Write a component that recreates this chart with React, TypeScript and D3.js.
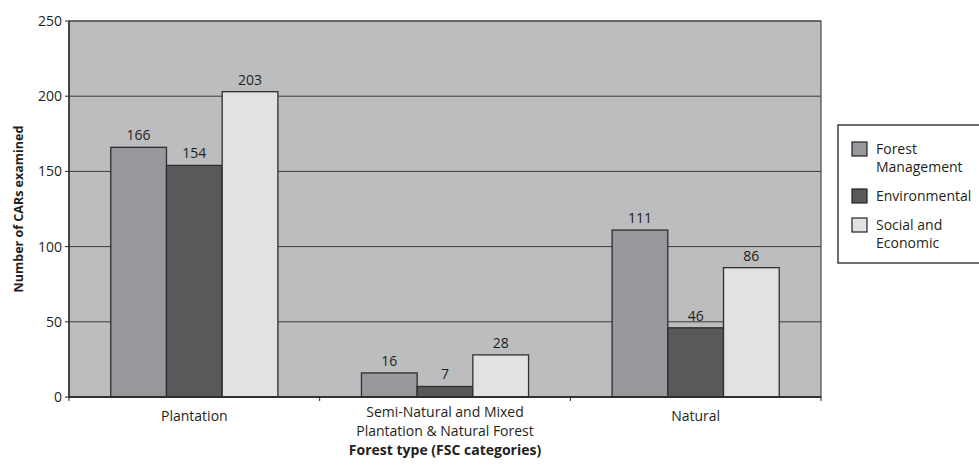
import React from 'react';
import * as d3 from 'd3';

// chart data
const categories = ['Plantation', 'Semi-Natural and Mixed\nPlantation & Natural Forest', 'Natural'];
const seriesNames = ['Forest Management', 'Environmental', 'Social and Economic'];
const forestManagement = [166, 16, 111];
const environmental = [154, 7, 46];
const socialEconomic = [203, 28, 86];
const yTicks = [0, 50, 100, 150, 200, 250];

const colors = ['#97989b', '#58595b', '#e1e2e4'];
const legendLines = [['Forest', 'Management'], ['Environmental'], ['Social and', 'Economic']];

const App = () => {
  const width = 979;
  const height = 471;
  const margin = { top: 21, left: 69, right: 158, bottom: 74 };
  const innerWidth = width - margin.left - margin.right;
  const innerHeight = height - margin.top - margin.bottom;
  const font = "'Open Sans', sans-serif";
  const textColor = '#231f20';

  const x = d3.scaleBand().domain(categories).range([0, innerWidth]).paddingInner(0).paddingOuter(0);
  const x1 = d3
    .scaleBand()
    .domain(seriesNames)
    .range([x.bandwidth() / 6, (x.bandwidth() * 5) / 6]);
  const y = d3.scaleLinear().domain([0, 250]).range([innerHeight, 0]);

  const series = [forestManagement, environmental, socialEconomic];

  return (
    <svg width={width} height={height} style={{ position: 'absolute', left: 0, top: 0 }}>
      <g transform={`translate(${margin.left},${margin.top})`}>
        {/* background */}
        <rect x={0} y={0} width={innerWidth} height={innerHeight} fill="#bcbdbf" />
        {/* gridlines */}
        {yTicks.map((t) => (
          <line key={t} x1={0} x2={innerWidth} y1={y(t)} y2={y(t)} stroke="#3a3a3a" strokeWidth={1} />
        ))}
        {/* bars */}
        {categories.map((c, ci) =>
          series.map((vals, si) => (
            <g key={`${ci}-${si}`}>
              <rect
                x={(x(c) as number) + (x1(seriesNames[si]) as number)}
                y={y(vals[ci])}
                width={x1.bandwidth()}
                height={innerHeight - y(vals[ci])}
                fill={colors[si]}
                stroke="#2e2e2e"
                strokeWidth={1.3}
              />
              <text
                x={(x(c) as number) + (x1(seriesNames[si]) as number) + x1.bandwidth() / 2}
                y={y(vals[ci]) - 7}
                textAnchor="middle"
                fontFamily={font}
                fontSize={14}
                fill={textColor}
              >
                {vals[ci]}
              </text>
            </g>
          ))
        )}
        {/* plot border */}
        <rect x={0} y={0} width={innerWidth} height={innerHeight} fill="none" stroke="#555" strokeWidth={1.3} />
        {/* y axis */}
        <line x1={0} x2={0} y1={0} y2={innerHeight} stroke="#222" strokeWidth={1.3} />
        {yTicks.map((t) => (
          <g key={t} transform={`translate(0,${y(t)})`}>
            <line x1={-4} x2={0} stroke="#222" />
            <text x={-7} dy="0.35em" textAnchor="end" fontFamily={font} fontSize={14} fill={textColor}>
              {t}
            </text>
          </g>
        ))}
        {/* x axis */}
        <line x1={0} x2={innerWidth} y1={innerHeight} y2={innerHeight} stroke="#222" strokeWidth={1.3} />
        {d3.range(categories.length + 1).map((i) => (
          <line
            key={i}
            x1={(innerWidth / categories.length) * i}
            x2={(innerWidth / categories.length) * i}
            y1={innerHeight}
            y2={innerHeight + 4}
            stroke="#222"
          />
        ))}
        {categories.map((c) => {
          const lines = c.split('\n');
          return (
            <text
              key={c}
              x={(x(c) as number) + x.bandwidth() / 2}
              y={lines.length > 1 ? innerHeight + 20 : innerHeight + 24}
              textAnchor="middle"
              fontFamily={font}
              fontSize={14}
              fill={textColor}
            >
              {lines.map((l, i) => (
                <tspan key={i} x={(x(c) as number) + x.bandwidth() / 2} dy={i === 0 ? 0 : 19}>
                  {l}
                </tspan>
              ))}
            </text>
          );
        })}
        {/* axis titles */}
        <text
          x={innerWidth / 2 + 0}
          y={innerHeight + 58}
          textAnchor="middle"
          fontFamily={font}
          fontSize={14}
          fontWeight="bold"
          fill={textColor}
        >
          Forest type (FSC categories)
        </text>
        <text
          transform={`translate(${-46},${innerHeight / 2}) rotate(-90)`}
          textAnchor="middle"
          fontFamily={font}
          fontSize={12.5}
          fontWeight="bold"
          fill={textColor}
        >
          Number of CARs examined
        </text>
      </g>
      {/* legend */}
      <g transform="translate(838,125)">
        <rect x={0} y={0} width={142} height={138} fill="#fff" stroke="#222" strokeWidth={1.3} />
        {seriesNames.map((s, i) => {
          const top = [17, 64, 93][i];
          return (
            <g key={s} transform={`translate(14,${top})`}>
              <rect x={0} y={0} width={15} height={14} fill={colors[i]} stroke="#222" strokeWidth={1.2} />
              {legendLines[i].map((l, li) => (
                <text key={li} x={24} y={12 + li * 18} fontFamily={font} fontSize={14} fill={textColor}>
                  {l}
                </text>
              ))}
            </g>
          );
        })}
      </g>
    </svg>
  );
};

export default App;
